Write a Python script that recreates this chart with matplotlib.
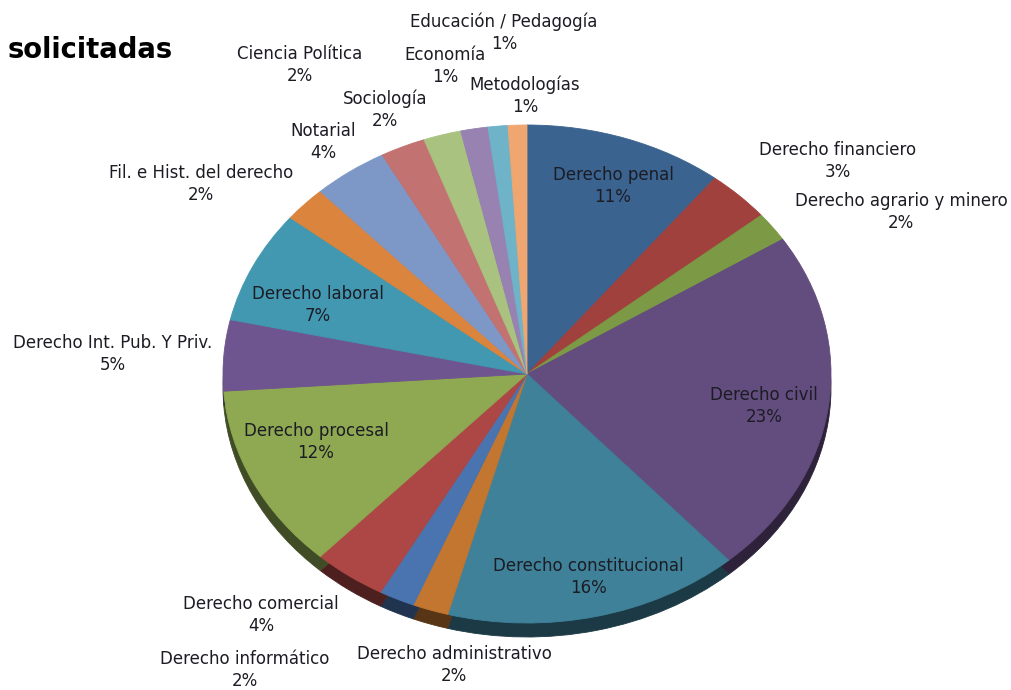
import matplotlib
matplotlib.use("Agg")
import matplotlib.pyplot as plt
from matplotlib.colors import to_rgb

# Areas requested, share of the total in percent
areas = ["Derecho penal", "Derecho financiero", "Derecho agrario y minero", "Derecho civil",
         "Derecho constitucional", "Derecho administrativo", "Derecho informático",
         "Derecho comercial", "Derecho procesal", "Derecho Int. Pub. Y Priv.", "Derecho laboral",
         "Fil. e Hist. del derecho", "Notarial", "Sociología", "Ciencia Política", "Economía",
         "Educación / Pedagogía", "Metodologías"]
shares = [10.6, 3.4, 1.9, 22.55, 15.75, 1.9, 1.9, 3.9, 12.0, 4.6, 7.3, 2.3, 4.0, 2.4, 2.0, 1.45, 1.05, 1.0]
colors = ["#3B6390", "#A0413E", "#7C9A45", "#634C7E", "#3F8199", "#C2762F", "#4A74B0", "#AC4745",
          "#8FA852", "#6F5590", "#4198B0", "#DB843D", "#7D97C6", "#C27271", "#A9C27F", "#9882B2",
          "#6FB3C9", "#F0A670"]

# Label anchor of each area in pixels from the top left corner (centre of the text block)
label_xy = [(613, 186), (838, 161), (901, 212), (764, 406), (588, 577), (454, 665), (245, 670),
            (261, 615), (316, 442), (113, 354), (318, 305), (201, 184), (323, 142), (385, 110),
            (300, 65), (445, 66), (504, 33), (525, 96)]

W, H = 1011, 690
CX, CY, RX, RY, DEPTH = 527, 374, 304, 249, 14

fig = plt.figure(figsize=(W / 100, H / 100), dpi=100, facecolor="white")
ax = fig.add_axes([0, 0, 1, 1])

# Side wall of the disc: same wedges, darker, moved down
dark = [tuple(c * 0.45 for c in to_rgb(col)) for col in colors]
side, _ = ax.pie(shares, colors=dark, startangle=90, counterclock=False,
                 center=(0, -DEPTH / RY), radius=1)
top, _ = ax.pie(shares, colors=colors, startangle=90, counterclock=False,
                center=(0, 0), radius=1)

# Seal the hairline seams between neighbouring wedges
for wedge in list(side) + list(top):
    wedge.set_edgecolor(wedge.get_facecolor())
    wedge.set_linewidth(0.6)

# An elliptical disc: the two axes use different scales
ax.set_aspect("auto")
ax.set_xlim(-CX / RX, (W - CX) / RX)
ax.set_ylim(-(H - CY) / RY, CY / RY)
ax.axis("off")

for name, value, (px, py) in zip(areas, shares, label_xy):
    fig.text(px / W, 1 - py / H, f"{name}\n{round(value)}%", ha="center", va="center",
             fontsize=12, color="#1c1c24", linespacing=1.3, family="DejaVu Sans")

fig.text(8 / W, 1 - 50 / H, "solicitadas", ha="left", va="center", fontsize=19.8,
         fontweight="bold", color="black", family="DejaVu Sans")

fig.savefig("out.png", dpi=100)
